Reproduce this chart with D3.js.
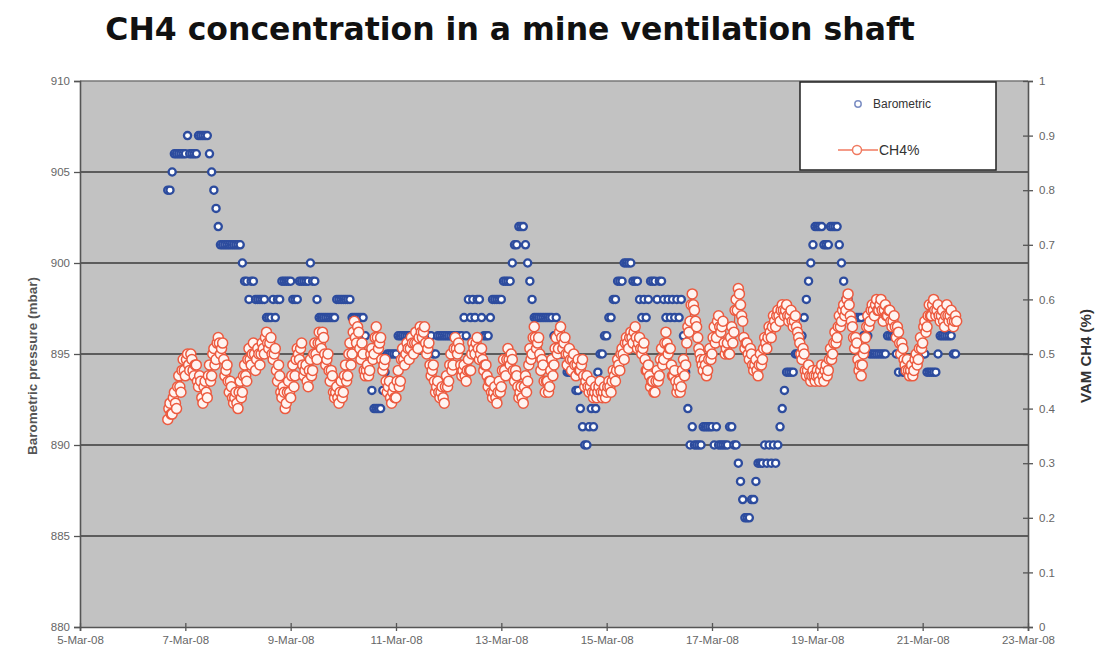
<!DOCTYPE html>
<html>
<head>
<meta charset="utf-8">
<script src="https://cdn.jsdelivr.net/npm/d3@7"></script>
<style>
  body { margin: 0; background: #fff; }
  svg text { font-family: "Liberation Sans", Arial, sans-serif; }
</style>
</head>
<body>
<div id="chart"></div>
<script>

const chartTitle = "CH4 concentration in a mine ventilation shaft";

// hourly samples, first one at 6-Mar-08 16:00
const firstSample = new Date(2008, 2, 6, 16);

// Barometric pressure (mbar), one value per hour, 24 per row
const barometric = [
  904,904,905,906,906,906,906,906,906,907,906,906,906,906,907,907,907,907,907,906,905,904,903,902,
  901,901,901,901,901,901,901,901,901,901,900,899,899,898,899,899,898,898,898,898,898,897,897,897,
  898,897,898,898,899,899,899,899,899,898,898,898,899,899,899,899,899,900,899,899,898,897,897,897,
  897,897,897,897,897,898,898,898,898,898,898,898,897,897,897,897,897,897,896,895,894,893,892,892,
  892,892,893,894,895,895,895,895,895,896,896,896,896,896,896,896,896,896,896,896,896,896,896,896,
  896,895,895,896,896,896,896,896,896,896,896,896,896,896,896,897,896,898,897,898,897,898,898,897,
  896,896,896,897,898,898,898,898,898,899,899,899,899,900,901,901,902,902,902,901,900,899,898,897,
  897,897,897,897,897,897,897,897,896,897,896,895,895,895,894,894,894,894,893,893,892,891,890,890,
  891,892,891,892,894,895,895,896,896,897,897,898,898,899,899,899,900,900,900,900,899,899,899,898,
  897,898,897,898,899,899,899,898,899,899,898,897,898,897,898,897,898,897,898,896,894,892,890,891,
  890,890,890,890,891,891,891,891,891,890,891,890,890,890,890,890,891,891,890,890,889,888,887,886,
  886,886,887,887,888,889,889,889,890,889,890,889,890,889,890,891,892,893,894,894,894,894,895,895,
  896,896,897,898,899,900,901,902,902,902,902,901,901,901,902,902,902,902,901,900,899,898,898,897,
  897,897,897,897,897,896,896,896,895,895,895,895,895,895,895,895,896,896,896,896,895,894,895,894,
  894,894,894,894,894,895,895,895,895,895,894,894,894,894,894,895,896,896,896,896,896,896,895,895
];

// VAM CH4 (%), on the hour, 24 per row
const ch4OnHour = [
  0.38,0.41,0.39,0.43,0.40,0.46,0.43,0.49,0.46,0.50,0.47,0.49,0.46,0.48,0.44,0.45,0.41,0.45,0.42,0.48,0.46,0.51,0.49,0.53,
  0.50,0.52,0.46,0.48,0.43,0.44,0.41,0.43,0.40,0.45,0.43,0.48,0.45,0.51,0.48,0.52,0.47,0.51,0.48,0.52,0.50,0.54,0.51,0.53,
  0.49,0.51,0.45,0.46,0.42,0.43,0.41,0.45,0.42,0.48,0.46,0.51,0.49,0.52,0.46,0.48,0.44,0.49,0.47,0.52,0.49,0.54,0.51,0.53,
  0.48,0.50,0.45,0.46,0.42,0.44,0.41,0.45,0.43,0.48,0.46,0.52,0.50,0.56,0.52,0.54,0.49,0.50,0.46,0.48,0.47,0.51,0.50,0.55,
  0.51,0.53,0.47,0.49,0.43,0.45,0.41,0.44,0.42,0.47,0.45,0.51,0.48,0.52,0.49,0.53,0.50,0.54,0.51,0.55,0.53,0.55,0.50,0.52,
  0.46,0.48,0.43,0.45,0.42,0.44,0.41,0.46,0.45,0.50,0.48,0.53,0.50,0.51,0.46,0.48,0.45,0.49,0.47,0.52,0.50,0.53,0.49,0.51,
  0.47,0.48,0.44,0.45,0.42,0.44,0.41,0.45,0.44,0.49,0.46,0.51,0.48,0.49,0.45,0.46,0.42,0.44,0.41,0.46,0.45,0.51,0.50,0.55,
  0.51,0.53,0.47,0.48,0.43,0.45,0.44,0.49,0.48,0.53,0.51,0.55,0.51,0.53,0.48,0.51,0.47,0.50,0.46,0.49,0.47,0.49,0.44,0.46,
  0.43,0.45,0.42,0.44,0.43,0.45,0.42,0.44,0.43,0.45,0.43,0.47,0.45,0.49,0.47,0.51,0.49,0.53,0.51,0.54,0.52,0.55,0.51,0.53,
  0.50,0.52,0.47,0.48,0.44,0.45,0.43,0.47,0.46,0.51,0.49,0.54,0.50,0.51,0.46,0.47,0.43,0.45,0.44,0.49,0.48,0.55,0.56,0.61,
  0.58,0.55,0.51,0.49,0.47,0.48,0.47,0.51,0.50,0.55,0.53,0.57,0.54,0.56,0.50,0.52,0.50,0.55,0.54,0.60,0.62,0.59,0.56,0.51,
  0.52,0.49,0.50,0.47,0.49,0.46,0.50,0.49,0.53,0.51,0.55,0.53,0.57,0.55,0.58,0.56,0.59,0.57,0.59,0.56,0.58,0.55,0.57,0.54,
  0.52,0.49,0.50,0.46,0.48,0.45,0.47,0.45,0.47,0.45,0.48,0.45,0.48,0.47,0.51,0.50,0.54,0.53,0.57,0.56,0.59,0.58,0.61,0.57,
  0.55,0.51,0.52,0.47,0.46,0.50,0.53,0.57,0.56,0.59,0.57,0.60,0.58,0.60,0.56,0.59,0.57,0.58,0.55,0.57,0.53,0.54,0.50,0.51,
  0.48,0.49,0.46,0.48,0.47,0.50,0.49,0.53,0.52,0.56,0.55,0.59,0.57,0.60,0.57,0.59,0.56,0.58,0.55,0.59,0.56,0.58,0.55,0.57
];

// VAM CH4 (%), on the half hour, 24 per row
const ch4HalfHour = [
  0.40,0.39,0.42,0.41,0.44,0.44,0.47,0.47,0.49,0.48,0.50,0.47,0.48,0.45,0.46,0.42,0.44,0.43,0.46,0.45,0.50,0.48,0.52,0.52,
  0.51,0.49,0.47,0.45,0.45,0.42,0.42,0.41,0.43,0.42,0.46,0.46,0.49,0.49,0.50,0.50,0.49,0.50,0.50,0.51,0.53,0.52,0.52,0.50,
  0.50,0.47,0.48,0.43,0.44,0.40,0.43,0.43,0.46,0.44,0.49,0.50,0.51,0.48,0.47,0.45,0.47,0.46,0.50,0.50,0.52,0.52,0.54,0.50,
  0.49,0.47,0.47,0.43,0.43,0.42,0.43,0.42,0.46,0.45,0.50,0.48,0.54,0.53,0.55,0.51,0.52,0.47,0.47,0.46,0.50,0.49,0.53,0.53,
  0.52,0.49,0.48,0.45,0.44,0.42,0.43,0.42,0.45,0.44,0.49,0.49,0.50,0.51,0.51,0.52,0.52,0.52,0.53,0.54,0.54,0.52,0.51,0.48,
  0.47,0.45,0.44,0.43,0.43,0.42,0.44,0.44,0.48,0.47,0.51,0.51,0.52,0.48,0.47,0.46,0.47,0.47,0.50,0.51,0.52,0.51,0.50,0.49,
  0.48,0.46,0.45,0.43,0.43,0.42,0.43,0.43,0.47,0.47,0.49,0.49,0.50,0.47,0.47,0.44,0.43,0.42,0.44,0.43,0.48,0.49,0.53,0.53,
  0.52,0.50,0.49,0.45,0.45,0.43,0.47,0.46,0.51,0.50,0.54,0.53,0.52,0.50,0.50,0.49,0.49,0.48,0.48,0.47,0.48,0.46,0.45,0.44,
  0.44,0.43,0.43,0.42,0.44,0.43,0.43,0.42,0.44,0.44,0.45,0.46,0.47,0.48,0.50,0.50,0.52,0.52,0.53,0.53,0.54,0.53,0.52,0.51,
  0.51,0.49,0.47,0.46,0.45,0.43,0.45,0.45,0.49,0.48,0.52,0.52,0.51,0.48,0.46,0.45,0.44,0.43,0.47,0.46,0.52,0.54,0.59,0.59,
  0.56,0.53,0.50,0.48,0.49,0.46,0.49,0.49,0.53,0.52,0.56,0.55,0.55,0.52,0.51,0.50,0.53,0.52,0.58,0.58,0.61,0.57,0.53,0.52,
  0.50,0.51,0.48,0.48,0.47,0.48,0.48,0.51,0.52,0.53,0.54,0.55,0.56,0.57,0.57,0.58,0.58,0.58,0.57,0.57,0.56,0.56,0.55,0.53,
  0.50,0.51,0.47,0.47,0.46,0.46,0.46,0.46,0.46,0.47,0.46,0.47,0.46,0.49,0.49,0.52,0.52,0.55,0.55,0.58,0.57,0.60,0.59,0.56,
  0.53,0.53,0.49,0.48,0.48,0.51,0.55,0.55,0.58,0.58,0.59,0.58,0.59,0.58,0.58,0.57,0.58,0.56,0.56,0.55,0.55,0.52,0.52,0.49,
  0.47,0.47,0.47,0.46,0.49,0.48,0.51,0.51,0.55,0.54,0.57,0.57,0.59,0.58,0.58,0.57,0.57,0.56,0.57,0.57,0.57,0.56,0.56,0.56
];

const pressureTicks = [880, 885, 890, 895, 900, 905, 910];
const ch4Ticks = [0, 0.1, 0.2, 0.3, 0.4, 0.5, 0.6, 0.7, 0.8, 0.9, 1];
const dateTicks = [5, 7, 9, 11, 13, 15, 17, 19, 21, 23].map(d => new Date(2008, 2, d));

function buildChart() {
    const width = 1104, height = 653;
    const left = 80, right = 1028, top = 81, bottom = 627;

    const svg = d3.select("#chart").append("svg")
        .attr("width", width)
        .attr("height", height);

    // scales
    const x = d3.scaleTime()
        .domain([new Date(2008, 2, 5), new Date(2008, 2, 23)])
        .range([left, right]);
    const yP = d3.scaleLinear().domain([880, 910]).range([bottom, top]);
    const yC = d3.scaleLinear().domain([0, 1]).range([bottom, top]);

    const baroData = barometric.map((v, i) => ({ t: d3.timeHour.offset(firstSample, i), v }));

    // merge the on-hour and half-hour readings in time order
    const ch4Data = [];
    ch4OnHour.forEach((v, i) => {
        const t = d3.timeHour.offset(firstSample, i);
        ch4Data.push({ t, v });
        ch4Data.push({ t: d3.timeMinute.offset(t, 30), v: ch4HalfHour[i] });
    });

    // title
    svg.append("text")
        .attr("x", 510)
        .attr("y", 40)
        .attr("text-anchor", "middle")
        .style("font-family", "'DejaVu Sans', sans-serif")
        .style("font-weight", "bold")
        .style("font-size", "31.5px")
        .attr("fill", "#111")
        .text(chartTitle);

    // plot background
    svg.append("rect")
        .attr("x", left).attr("y", top)
        .attr("width", right - left).attr("height", bottom - top)
        .attr("fill", "#c2c2c2");

    // grid lines
    svg.append("g")
        .selectAll("line")
        .data(pressureTicks.filter(d => d > 880 && d < 910))
        .join("line")
        .attr("x1", left).attr("x2", right)
        .attr("y1", d => yP(d)).attr("y2", d => yP(d))
        .attr("stroke", "#5c5c5c")
        .attr("stroke-width", 2);

    // top border
    svg.append("line")
        .attr("x1", left).attr("x2", right)
        .attr("y1", top).attr("y2", top)
        .attr("stroke", "#777").attr("stroke-width", 1.5);

    // left axis
    const leftAxis = svg.append("g")
        .attr("transform", `translate(${left},0)`)
        .call(d3.axisLeft(yP).tickValues(pressureTicks).tickSize(6).tickPadding(4));

    // right axis
    const rightAxis = svg.append("g")
        .attr("transform", `translate(${right},0)`)
        .call(d3.axisRight(yC).tickValues(ch4Ticks).tickSize(5).tickPadding(6)
            .tickFormat(d => d3.format("")(+d.toFixed(1))));
    rightAxis.selectAll(".tick line").attr("x1", -5);

    // bottom axis
    const bottomAxis = svg.append("g")
        .attr("transform", `translate(0,${bottom})`)
        .call(d3.axisBottom(x).tickValues(dateTicks).tickSize(4).tickPadding(3)
            .tickFormat(d3.timeFormat("%-d-%b-%y")));
    bottomAxis.selectAll(".tick line").attr("y1", -4);

    [leftAxis, rightAxis, bottomAxis].forEach(a => {
        a.select(".domain").attr("stroke", "#555").attr("stroke-width", 1.6);
        a.selectAll(".tick line").attr("stroke", "#555").attr("stroke-width", 1.3);
        a.selectAll(".tick text")
            .attr("fill", "#666")
            .style("font-size", "11.5px");
    });
    bottomAxis.selectAll(".tick text").attr("dy", "0.9em");

    // axis titles
    svg.append("text")
        .attr("transform", "translate(37,366) rotate(-90)")
        .attr("text-anchor", "middle")
        .style("font-size", "13.5px")
        .style("font-weight", "bold")
        .attr("fill", "#555")
        .text("Barometric pressure (mbar)");

    svg.append("text")
        .attr("transform", "translate(1091,356) rotate(-90)")
        .attr("text-anchor", "middle")
        .style("font-size", "15px")
        .style("font-weight", "bold")
        .attr("fill", "#333")
        .text("VAM CH4 (%)");

    // barometric markers
    svg.append("g")
        .selectAll("circle")
        .data(baroData)
        .join("circle")
        .attr("cx", d => x(d.t))
        .attr("cy", d => yP(d.v))
        .attr("r", 3.6)
        .attr("fill", "#fff")
        .attr("stroke", "#2d4c9e")
        .attr("stroke-width", 2.3);

    // CH4 line + markers
    svg.append("path")
        .datum(ch4Data)
        .attr("fill", "none")
        .attr("stroke", "#e4553b")
        .attr("stroke-width", 1.2)
        .attr("d", d3.line().x(d => x(d.t)).y(d => yC(d.v)));

    svg.append("g")
        .selectAll("circle")
        .data(ch4Data)
        .join("circle")
        .attr("cx", d => x(d.t))
        .attr("cy", d => yC(d.v))
        .attr("r", 5)
        .attr("fill", "#fff4f1")
        .attr("stroke", "#ec5a3f")
        .attr("stroke-width", 1.5);

    // legend
    const legend = svg.append("g");
    legend.append("rect")
        .attr("x", 800).attr("y", 82)
        .attr("width", 196).attr("height", 88)
        .attr("fill", "#fff")
        .attr("stroke", "#222")
        .attr("stroke-width", 1.5);
    legend.append("circle")
        .attr("cx", 858).attr("cy", 104).attr("r", 3.2)
        .attr("fill", "#fff").attr("stroke", "#7d8fc4").attr("stroke-width", 1.5);
    legend.append("text")
        .attr("x", 873).attr("y", 108)
        .style("font-size", "12px").attr("fill", "#333")
        .text("Barometric");
    legend.append("line")
        .attr("x1", 838).attr("x2", 878).attr("y1", 150).attr("y2", 150)
        .attr("stroke", "#f07a60").attr("stroke-width", 1.5);
    legend.append("circle")
        .attr("cx", 857).attr("cy", 150).attr("r", 4.5)
        .attr("fill", "#fff").attr("stroke", "#f07a60").attr("stroke-width", 1.5);
    legend.append("text")
        .attr("x", 879).attr("y", 155)
        .style("font-size", "14px").attr("fill", "#333")
        .text("CH4%");
}

buildChart();
</script>
</body>
</html>
